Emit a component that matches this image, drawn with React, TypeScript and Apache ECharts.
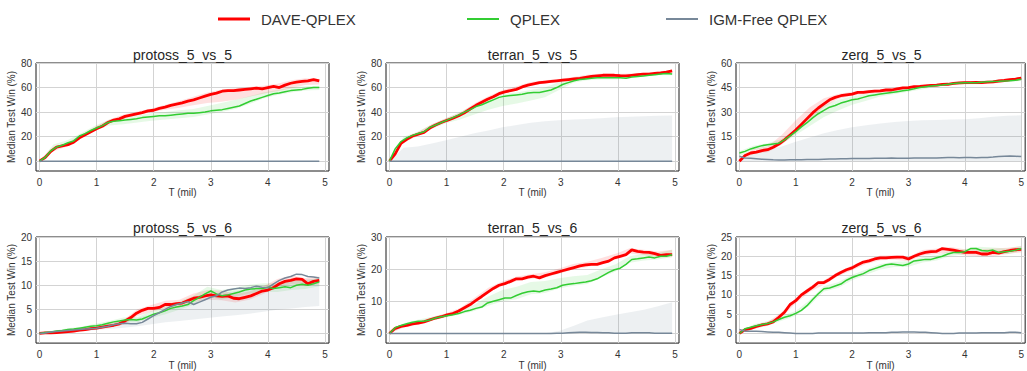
import React, { useEffect, useRef } from "react";
import * as echarts from "echarts";

const FONT = '"Liberation Sans", Arial, Helvetica, sans-serif';
const RED = "#ff0000";
const GREEN = "#32cd32";
const GRAY = "#778899";

const LEGEND_NAMES = ["DAVE-QPLEX", "QPLEX", "IGM-Free QPLEX"];
const TITLES = ["protoss_5_vs_5", "terran_5_vs_5", "zerg_5_vs_5", "protoss_5_vs_6", "terran_5_vs_6", "zerg_5_vs_6"];
const X_ENDS = [4.9, 4.95, 5.0, 4.9, 4.95, 5.0];
const Y_MINS = [-8, -8, -6, -2, -3, -2.5];
const Y_MAXS = [80, 80, 60, 20, 30, 25];
const Y_TICKS = [
  [0, 20, 40, 60, 80],
  [0, 20, 40, 60, 80],
  [0, 15, 30, 45, 60],
  [0, 5, 10, 15, 20],
  [0, 10, 20, 30],
  [0, 5, 10, 15, 20, 25],
];
const X_TICKS = [0, 1, 2, 3, 4, 5];

// ---------- protoss_5_vs_5 ----------
const P55_DAVE = [0,3,8,11.5,12.5,13.5,15.5,19,21.5,24, 26.5,28.5,31.5,33.5,34.5,36.5,37.5,38.5,39.5,41, 41.5,43,44,45.5,46.5,47.5,49,50,51.5,53, 54.5,55.5,57,57.5,57.5,58,58.5,59,59.5,59, 60,61,60,62,63.5,64.5,65,65.5,66.5,65.5];
const P55_QPLEX = [0,3,8.5,11.5,13,15,16.5,20.5,22.5,25, 27,29,31.5,32.5,33,33.5,34,34.5,35.5,36, 36.5,37,37,37.5,38,38.5,39,39,39.5,40, 41,41.5,42,43,44,45,47,49,50.5,52, 53.5,55,55.5,56.5,57.5,58,58.5,59.5,60,60];
const P55_IGM = [0,0,0,0,0,0,0,0,0,0,0];
const P55_DAVE_LO = [0,8,12,18.5,25,31,35,37.5,40,42,43.5,45.5,47.5,48.5,50,52.5,55,57,59.5,62,62.5];
const P55_DAVE_HI = [0,11.5,15,21.5,28,34,38,40.5,43,46,49,52.5,56,58.5,59.5,60.5,61.5,63,66,67.5,67];
const P55_Q_LO = [0,10,13,19.5,25,29,30,31.5,33,34,35,36,38,40,42.5,46.5,51,54,56,57.5,58];
const P55_Q_HI = [0,13.5,17,23,29,34,36,37.5,39,40,41.5,42.5,45,47.5,50,53,56,58,60,61,61.5];

// ---------- terran_5_vs_5 ----------
const T55_DAVE = [0,6,14.5,17.8,20.5,22,23.5,27,29.5,31.5, 33.3,35,37,39.5,42.5,45.5,48,50.5,52.5,55, 56.5,57.5,58.5,60.5,62,63,64,64.5,65,65.5, 66,66.5,67,67.5,68.3,69,69.5,70,70.2,70, 69.7,69.5,70,70.5,71,71,71.5,72,72.5,73.5];
const T55_QPLEX = [0,10,16,19,21,22.5,24,27.5,29.5,31.5, 33.5,35.5,37.5,40,42,44.5,46,48,50,52, 53,53.5,54,54.5,55.5,56,56,57,58,60, 62.5,64,65.5,66.5,67,67.5,68,68,68,68, 68,67.5,68.5,69,69.5,70,70.5,71,71.5,71];
const T55_IGM = [0,0,0,0,0,0,0,0,0,0,0];
const T55_DAVE_LO = [0,15,20.5,27,32,36.5,44,50,55,58,61.5,63.5,65,66,67.5,69,68.5,69,70,71,72.5];
const T55_DAVE_HI = [0,18,23.5,30,35,39.5,47,53,58,61,64.5,66,67,68.5,70.5,71.5,71,71.5,72,73,74.5];
const T55_Q_LO = [0,16,20.5,26.5,31,34,38,42,45,47,49.5,52,58,64,66,66.5,66.5,67.5,69,70,70];
const T55_Q_HI = [0,20,24,30,35,40,46,50.5,54.5,56,58,60,64.5,68,69,69.5,69.5,70,71,72.5,72.5];
const T55_IGM_LO = [0,0,0,0,0,0,0,0,0,0,0,0,0,0,0,0,0,0,0,0,0];
const T55_IGM_HI = [0,11,12,14.5,17,20,22.7,25,27.6,29.5,31.4,32.5,33.3,34,34.4,35,35.8,36.2,36.6,37,37.2];

// ---------- zerg_5_vs_5 ----------
const Z55_DAVE = [0,3.5,5,5.5,6.5,7,8.5,10.5,13,16, 19,22.5,26,29.5,32.5,35,37.5,39,40,40.5, 41,42,42,42.5,42.8,43,43.5,43.5,44.2,44.8, 45,45.5,45.7,46,46.3,46.5,46.9,47,47.5,47.8, 48,48,48.1,48,48.3,48.5,49,49.3,49.8,50.2, 50.8];
const Z55_QPLEX = [5,6,7.5,8.5,9.5,10,10.5,11,13,15.5, 18,21,23.5,26.5,29,31,33,34,35.5,36.5, 37.5,38,39,40,40.5,41,41.5,42,42.5,43, 43.5,44.2,45,45.5,46,46.3,46.5,47,47.5,47.8, 48,48,48,48.3,48.5,48.7,48.8,49,49.2,49.5, 50];
const Z55_IGM = [3,2,1.8,1.5,1.2,1,0.8,0.7,0.7,0.8, 0.8,0.9,1,1,1.1,1.2,1.3,1.4,1.5,1.5, 1.6,1.6,1.7,1.7,1.8,1.8,1.8,1.9,1.8,1.8, 1.8,1.9,2,2,2,2,2.1,2.2,2.2,2.1, 2.2,2.2,2.1,2.2,2.3,2.5,2.8,3,3.2,3, 2.8];
const Z55_DAVE_LO = [0,4.5,5.5,10,17,25.5,33,38,40,41,42,43,44,45,45.5,46.5,47,47,47.5,48.5,49.5];
const Z55_DAVE_HI = [0,7.5,9,16,25,33,38.5,41,42.5,43.5,44,45,46,46.5,47.5,48,49,49,49.5,50.5,51.5];
const Z55_Q_LO = [3,7,8.5,10.5,16,21.5,27,31,34.5,37,39.5,41,42.5,44,45.5,46.5,47,47.5,48,48.5,49];
const Z55_Q_HI = [6,9.5,11,13.5,20,27.5,34,37.5,39.5,41,42,43,44.5,46,47,47.8,48.8,49,49.5,50,51];
const Z55_IGM_LO = [0,0,0,0,0,0,0,0,0,0,0,0,0,0,0,0,0,0,0,0,0];
const Z55_IGM_HI = [0,5,6.8,9,11.9,14.5,17,19,20.7,22,23,24,24.6,25,25.2,25.4,25.6,26.3,27.2,27.8,28];

// ---------- protoss_5_vs_6 ----------
const P56_DAVE = [0,0.1,0.1,0.2,0.3,0.4,0.5,0.7,0.8,1, 1.1,1.3,1.5,1.7,2,2.6,3.3,4.2,4.8,5.2, 5.2,5.4,6,6,6.2,6.3,6.8,7.3,7.5,7.8, 8,7.8,7.7,7.8,7.3,7.2,7.5,7.8,8.3,8.8, 9,9.5,10.3,10.8,11,11.3,11.2,10.3,10.8,11];
const P56_QPLEX = [0,0.2,0.3,0.5,0.6,0.8,0.9,1.1,1.3,1.5, 1.6,1.8,2.1,2.4,2.6,2.8,2.9,2.8,3,3.5, 4,4.3,4.7,5.2,5.5,5.7,6,6.8,7.5,8.2, 8.8,8.2,7.8,8,8.3,8.6,9,9.2,9.3,9.3, 9.6,9.3,9.5,9.7,9.5,10,10.2,10,10.3,10.7];
const P56_IGM = [0,0.1,0.3,0.4,0.5,0.6,0.7,0.8,0.9,1, 1.1,1.3,1.5,1.8,2,2.1,2,2,2.3,3, 3.7,4.3,5,5.6,6,6.3,6.6,6,6.5,7, 7.5,7.8,8.6,9,9.2,9.4,9.3,9.5,9.8,9.6, 9.5,10.3,11,11.5,11.8,12.3,12.2,11.8,11.7,11.5];
const P56_DAVE_LO = [0,0,0.1,0.4,0.8,1.2,1.8,3.6,4.5,5.2,5.4,6.5,7,6.9,6.4,7,8.2,9.6,10.2,9.8,10.2];
const P56_DAVE_HI = [0,0.3,0.6,1,1.4,2,2.8,5,5.9,6.8,7,8.3,9,8.9,8.2,8.7,9.8,11.3,12,11.5,11.8];
const P56_Q_LO = [0,0.1,0.5,0.8,1.2,1.8,2.3,2.3,3.2,4,4.9,5.9,7.7,7,7.6,8.3,8.6,8.6,9,9.2,9.8];
const P56_Q_HI = [0,0.5,1.1,1.4,2,2.6,3.3,3.4,4.6,5.6,6.6,7.8,9.7,9,9.5,10.1,10.4,10.4,10.8,11,11.6];
const P56_IGM_LO = [0,0.1,0.2,0.4,0.7,0.9,1.2,1.5,1.9,2.3,2.6,2.9,3.2,3.5,3.8,4.1,4.5,4.9,5.2,5.5,5.7];
const P56_IGM_HI = [0,0.6,0.9,1.3,1.6,2,2.6,3.2,4,5,5.8,6.5,7.5,8.3,8.8,9.2,9.6,10.3,11,11.3,11.3];

// ---------- terran_5_vs_6 ----------
const T56_DAVE = [0,1.6,2.2,2.5,3,3.2,3.6,4.2,4.8,5.2, 5.8,6.2,7,8,9,10.3,11.5,12.8,14,15, 15.5,16.2,17,17,17.5,17.8,17.3,18,18.5,19, 19.5,20,20.5,21,21.3,21.5,21.5,22,22.5,23.5, 24,24.5,26,25.5,25.3,25.2,24.8,24.3,24.5,24.5];
const T56_QPLEX = [0,1.8,2.5,3,3.5,3.8,3.8,4.2,4.8,5.2, 5.5,5.8,6.2,6.8,7.2,7.8,8.2,9.5,10,10.5, 11,11,11.8,12.5,13,13.2,13,13.5,13.8,14.2, 15,15.3,15.5,15.8,16,16.4,17,18,19,19.8, 20.3,21.5,23,23.2,23.5,23.8,23.5,24,24,24.5];
const T56_IGM = [0,0,0,0,0,0,0,0,0,0, 0,0,0,0,0,0,0,0,0,0, 0,0,0,0,0,0,0,0,0,0.1, 0.1,0.2,0.3,0.4,0.4,0.3,0.3,0.2,0.2,0.1, 0.1,0.1,0.2,0.2,0.2,0.2,0.1,0.1,0.1,0.1];
const T56_DAVE_LO = [0,1.8,2.7,4,5.3,6.7,9.6,12.8,14.8,16.3,17,17.4,18.6,20,20.7,21.9,23.2,24.9,24.4,23.6,23.7];
const T56_DAVE_HI = [0,2.8,3.7,5,6.3,7.9,11,14.2,16.2,17.7,18.4,19,20.2,21.6,22.3,23.5,24.8,26.5,26,25.5,26];
const T56_Q_LO = [0,2.2,3.3,4.1,5,5.9,7,8.6,10,10.6,12.2,12.6,14,14.8,15.4,17.5,19.3,22,22.7,23,23.8];
const T56_Q_HI = [0,3.2,4.3,5.2,6.1,7.3,9,11.5,13.5,14.5,16,16.3,17.2,17.8,18.2,20,21.5,24,24.8,25,26];
const T56_IGM_LO = [0,0,0,0,0,0,0,0,0,0,0,0,0,0,0,0,0,0,0,0,0];
const T56_IGM_HI = [0,0,0,0,0,0,0,0,0,0,0,0.1,0.8,2.3,4,5,5.8,6.6,7.4,8.5,9.7];

// ---------- zerg_5_vs_6 ----------
const Z56_DAVE = [0,1,1.3,1.8,2.2,2.5,3,4.2,5.5,7.5, 8.5,10,11,12,13.2,13.2,14,15,15.8,16.5, 17,17.8,18.5,18.8,19.3,19.6,19.6,19.7,19.8,19.8, 19.3,20,20.6,21,21.2,21.3,22,21.8,21.6,21.3, 21,21,21,20.6,20.6,21,20.8,21.2,21.5,21.7, 21.8];
const Z56_QPLEX = [0,1.2,1.6,2,2.3,2.6,3,3.6,4.2,4.6, 5.2,6,7.2,8.8,10.3,11.6,11.8,12.3,12.8,13.8, 14.5,15,15.5,16.3,16.8,17.3,17.8,18,17.8,17.6, 18,18.8,19,19.2,19.2,19.6,20,20.6,21,21, 21.2,22,22,21.5,21.4,21.6,21,21.2,21.3,21.6, 22];
const Z56_IGM = [1,0.6,0.6,0.6,0.5,0.4,0.3,0.3,0.2,0.1, 0,0,0,0,0.1,0.1,0.1,0.1,0.1,0.1, 0.1,0.1,0.1,0.2,0.2,0.2,0.2,0.3,0.3,0.4, 0.4,0.4,0.3,0.3,0.2,0.1,0,0,0,0.1, 0.1,0.1,0.1,0.2,0.2,0.2,0.2,0.2,0.3,0.3, 0.2];
const Z56_DAVE_LO = [0,1.1,2,4.2,7.8,10.8,12.6,14.8,16.4,18,19,19.1,18.7,20.2,20.6,21,20.2,20,20,20.6,21];
const Z56_DAVE_HI = [0,2.1,3,5.5,9.2,12.2,13.8,16,17.6,19.2,20.2,20.3,19.9,21.6,22,22.4,21.8,21.8,22,22.2,22.6];
const Z56_Q_LO = [0,1.2,2,3.3,4.6,7.3,10.9,11.8,13.8,15.2,16.6,17.2,17.3,18.4,18.9,20.1,20.5,21,20.9,20.5,21.3];
const Z56_Q_HI = [0,2.4,3.2,4.5,5.8,8.7,12.3,13.3,15.2,16.6,18,18.6,18.7,19.8,20.3,21.5,21.9,22.5,22.3,22,22.7];

type Sub = {
  dave: number[]; qplex: number[]; igm: number[];
  daveLo: number[]; daveHi: number[]; qLo: number[]; qHi: number[];
  igmLo?: number[]; igmHi?: number[];
};

const SUBS: Sub[] = [
  { dave: P55_DAVE, qplex: P55_QPLEX, igm: P55_IGM, daveLo: P55_DAVE_LO, daveHi: P55_DAVE_HI, qLo: P55_Q_LO, qHi: P55_Q_HI },
  { dave: T55_DAVE, qplex: T55_QPLEX, igm: T55_IGM, daveLo: T55_DAVE_LO, daveHi: T55_DAVE_HI, qLo: T55_Q_LO, qHi: T55_Q_HI, igmLo: T55_IGM_LO, igmHi: T55_IGM_HI },
  { dave: Z55_DAVE, qplex: Z55_QPLEX, igm: Z55_IGM, daveLo: Z55_DAVE_LO, daveHi: Z55_DAVE_HI, qLo: Z55_Q_LO, qHi: Z55_Q_HI, igmLo: Z55_IGM_LO, igmHi: Z55_IGM_HI },
  { dave: P56_DAVE, qplex: P56_QPLEX, igm: P56_IGM, daveLo: P56_DAVE_LO, daveHi: P56_DAVE_HI, qLo: P56_Q_LO, qHi: P56_Q_HI, igmLo: P56_IGM_LO, igmHi: P56_IGM_HI },
  { dave: T56_DAVE, qplex: T56_QPLEX, igm: T56_IGM, daveLo: T56_DAVE_LO, daveHi: T56_DAVE_HI, qLo: T56_Q_LO, qHi: T56_Q_HI, igmLo: T56_IGM_LO, igmHi: T56_IGM_HI },
  { dave: Z56_DAVE, qplex: Z56_QPLEX, igm: Z56_IGM, daveLo: Z56_DAVE_LO, daveHi: Z56_DAVE_HI, qLo: Z56_Q_LO, qHi: Z56_Q_HI },
];

// layout
const COL_LEFT = [36, 386, 736];
const COL_WIDTH = [293, 293, 291];
const ROW_TOP = [63, 237];
const ROW_HEIGHT = [108, 107];
const TITLE_Y = [55, 228];

function xs(n: number, end: number): number[] {
  return Array.from({ length: n }, (_, i) => +((i * end) / (n - 1)).toFixed(4));
}
function pairs(vals: number[], end: number): number[][] {
  const x = xs(vals.length, end);
  return vals.map((v, i) => [x[i], v]);
}

function buildOption(): any {
  const grids: any[] = [];
  const xAxes: any[] = [];
  const yAxes: any[] = [];
  const series: any[] = [];
  const graphics: any[] = [];

  SUBS.forEach((s, k) => {
    const col = k % 3;
    const row = Math.floor(k / 3);
    const left = COL_LEFT[col];
    const width = COL_WIDTH[col];
    const top = ROW_TOP[row];
    const height = ROW_HEIGHT[row];
    const end = X_ENDS[k];

    grids.push({ left, top, width, height, show: true, borderColor: "#1a1a1a", borderWidth: 1, backgroundColor: "transparent" });

    xAxes.push({
      type: "value", gridIndex: k, min: -0.06, max: 5.07,
      name: "T (mil)", nameLocation: "middle", nameGap: 16,
      nameTextStyle: { fontSize: 10, color: "#333", fontFamily: FONT },
      axisLine: { show: false },
      axisTick: { show: false, customValues: X_TICKS },
      axisLabel: { customValues: X_TICKS, fontSize: 10, color: "#333", fontFamily: FONT, margin: 6 },
      splitLine: { show: true, lineStyle: { color: "#d3d3d3", width: 1 } },
    });
    yAxes.push({
      type: "value", gridIndex: k, min: Y_MINS[k], max: Y_MAXS[k],
      name: "Median Test Win (%)", nameLocation: "middle", nameGap: 19,
      nameTextStyle: { fontSize: 10, color: "#333", fontFamily: FONT },
      axisLine: { show: false },
      axisTick: { show: false, customValues: Y_TICKS[k] },
      axisLabel: { customValues: Y_TICKS[k], fontSize: 10, color: "#333", fontFamily: FONT, margin: 4 },
      splitLine: { show: true, lineStyle: { color: "#d3d3d3", width: 1 } },
    });

    const bands: [number[] | undefined, number[] | undefined, string][] = [
      [s.daveLo, s.daveHi, "rgba(255,0,0,0.12)"],
      [s.qLo, s.qHi, "rgba(50,205,50,0.12)"],
      [s.igmLo, s.igmHi, "rgba(119,136,153,0.13)"],
    ];
    bands.forEach(([lo, hi, color], j) => {
      if (!lo || !hi) return;
      const bx = xs(lo.length, end);
      series.push({
        type: "custom", name: `band-${k}-${j}`, xAxisIndex: k, yAxisIndex: k,
        silent: true, z: 1, clip: true, data: [[0, 0]],
        renderItem: (_p: any, api: any) => {
          const pts: number[][] = [];
          for (let i = 0; i < lo.length; i++) pts.push(api.coord([bx[i], lo[i]]));
          for (let i = hi.length - 1; i >= 0; i--) pts.push(api.coord([bx[i], hi[i]]));
          return { type: "polygon", shape: { points: pts }, style: { fill: color } };
        },
      });
    });

    const lines: [string, number[], string, number, number][] = [
      [LEGEND_NAMES[0], s.dave, RED, 2.8, 3],
      [LEGEND_NAMES[1], s.qplex, GREEN, 1.5, 4],
      [LEGEND_NAMES[2], s.igm, GRAY, 1.5, 5],
    ];
    lines.forEach(([name, vals, color, w, z]) => {
      series.push({
        type: "line", name, xAxisIndex: k, yAxisIndex: k, data: pairs(vals, end),
        showSymbol: false, symbol: "none", z,
        lineStyle: { color, width: w }, itemStyle: { color },
      });
    });

    graphics.push({
      type: "text", x: left + width / 2, y: TITLE_Y[row],
      style: {
        text: TITLES[k], fill: "#262626", font: `14px ${FONT}`,
        align: "center", verticalAlign: "middle", textAlign: "center", textVerticalAlign: "middle",
      },
    });
  });

  const legendLefts = [213, 462, 661];
  const legendHeights = [3, 2, 2];
  const legends = LEGEND_NAMES.map((n, i) => ({
    data: [n], left: legendLefts[i], top: 6, orient: "horizontal",
    icon: "rect", itemWidth: 32, itemHeight: legendHeights[i], selectedMode: false,
    textStyle: { fontSize: 15, color: "#333", fontFamily: FONT, padding: [0, 0, 0, 6], lineHeight: 16 },
  }));

  return {
    animation: false,
    backgroundColor: "#ffffff",
    grid: grids,
    xAxis: xAxes,
    yAxis: yAxes,
    legend: legends,
    series,
    graphic: graphics,
  };
}

export default function App() {
  const ref = useRef<HTMLDivElement>(null);
  useEffect(() => {
    if (!ref.current) return;
    const chart = echarts.init(ref.current, undefined, { renderer: "svg" });
    chart.setOption(buildOption());
    return () => chart.dispose();
  }, []);
  return <div ref={ref} style={{ position: "fixed", left: 0, top: 0, width: 1027, height: 371 }} />;
}
